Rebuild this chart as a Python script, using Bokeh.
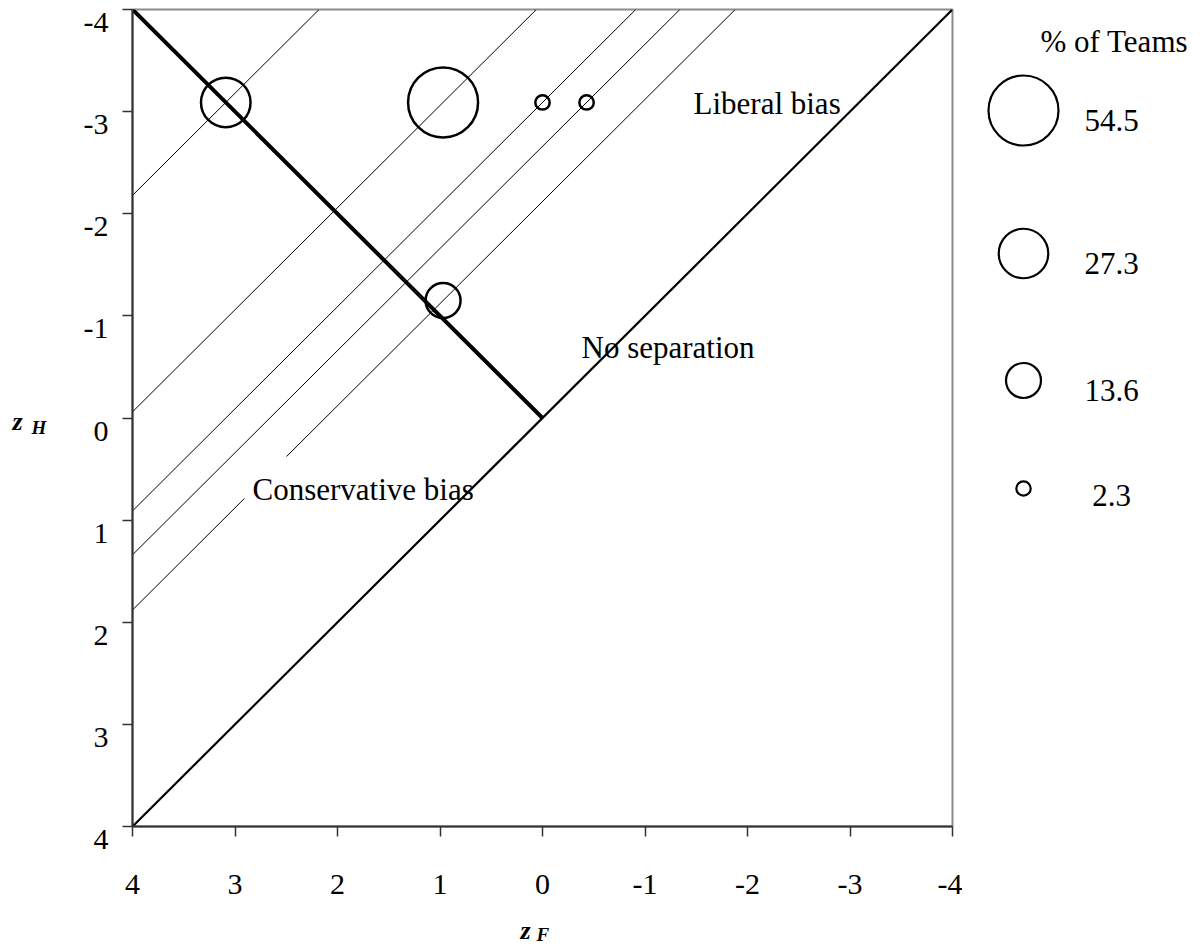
import numpy as np
from bokeh.plotting import figure
from bokeh.models import Range1d, FixedTicker, LinearAxis
from bokeh.layouts import row, column
from bokeh.core.properties import value
from bokeh.embed import file_html
from bokeh.resources import INLINE

# ---------------- data ----------------
zF = [3.09, 0.97, 0.0, -0.43, 0.97]          # team points, z(F)
zH = [-3.09, -3.09, -3.09, -3.09, -1.15]     # team points, z(H)
pct_teams = [27.3, 54.5, 2.3, 2.3, 13.6]     # % of teams at each point
legend_pct = [54.5, 27.3, 13.6, 2.3]
ticks = [4, 3, 2, 1, 0, -1, -2, -3, -4]
tick_labels = ["4", "3", "2", "1", "0", "-1", "-2", "-3", "-4"]
no_sep_x = [4, -4]          # chance line zH = zF
no_sep_y = [4, -4]
neutral_x = [4, 0]          # unbiased criterion line zH = -zF
neutral_y = [-4, 0]
annot_text = ["Liberal bias", "No separation", "Conservative bias"]
legend_title = "% of Teams"

FONT = "Liberation Serif"
MAX_D = 70.0


def diam(p):
    return list(MAX_D * np.sqrt(np.array(p, dtype=float) / max(legend_pct)))


# ---------------- layout geometry (page pixels) ----------------
TOTAL_W, TOTAL_H = 1196, 945
TOP_H = 915                     # height of the upper row
LSW = 60                        # left strip (z_H symbol)
FL, FT, FW, FH = 132, 9, 820, 817
MAIN_W = FL - LSW + FW + 10
LEG_X0 = LSW + MAIN_W


def to_data(px, py):
    return 4 - (px - FL) / FW * 8, -4 + (py - FT) / FH * 8


def helper(x0, w, h, ytop, ybot):
    f = figure(width=w, height=h, min_border=0, title=None,
               x_range=Range1d(x0, x0 + w), y_range=Range1d(ybot, ytop),
               x_axis_location=None, y_axis_location=None,
               output_backend="svg", toolbar_location=None)
    f.grid.visible = False
    f.outline_line_color = None
    f.border_fill_color = "white"
    f.background_fill_color = "white"
    return f


# ---------------- main plot ----------------
p = figure(frame_width=FW, frame_height=FH, min_border_left=FL - LSW, min_border_right=10,
           min_border_top=FT, min_border_bottom=TOP_H - FT - FH, title=None,
           x_range=Range1d(4, -4), y_range=Range1d(4, -4),
           output_backend="svg", toolbar_location=None)
p.grid.visible = False
p.outline_line_color = "#8c8c8c"
p.outline_line_width = 2
p.background_fill_color = "white"
p.border_fill_color = "white"

# y tick labels sit ~12px below their ticks in the original: a label-only axis
shift = 12 / FH * 8
p.extra_y_ranges = {"lab": Range1d(4 - shift, -4 - shift)}
lab_ticks = [t for t in ticks if t != ticks[0]] + [ticks[0] - shift]
lab_over = {t: s for t, s in zip(ticks, tick_labels) if t != ticks[0]}
lab_over[ticks[0] - shift] = "\n" + tick_labels[0]
ylab = LinearAxis(y_range_name="lab", ticker=FixedTicker(ticks=lab_ticks))
p.add_layout(ylab, "left")

for ax in (p.xaxis[0], p.yaxis[0], ylab):
    ax.major_tick_in = 0
    ax.minor_tick_line_color = None
    ax.major_label_text_font = FONT
    ax.major_label_text_font_size = "30px"
    ax.major_label_text_color = "black"

for ax in (p.xaxis[0], p.yaxis[0]):
    ax.ticker = FixedTicker(ticks=ticks)
    ax.major_tick_out = 10
    ax.axis_line_color = "#333333"
    ax.axis_line_width = 2
    ax.major_tick_line_color = "#333333"
    ax.major_tick_line_width = 1.5

p.xaxis.major_label_overrides = {t: s for t, s in zip(ticks, tick_labels)}
p.xaxis.major_label_standoff = 38
p.yaxis[0].major_label_overrides = {t: "" for t in ticks}
p.yaxis[0].major_label_standoff = 0
ylab.major_label_overrides = lab_over
ylab.major_label_text_line_height = 0.7
ylab.axis_line_color = None
ylab.major_tick_line_color = None
ylab.major_tick_out = 0
ylab.major_label_standoff = 14

# iso-sensitivity lines through each point
d = np.array(zF) - np.array(zH)
xs = [[4.0, float(di) - 4.0] for di in d]
ys = [[4.0 - float(di), -4.0] for di in d]
p.multi_line(xs, ys, line_color="black", line_width=1)

# white text box behind "Conservative bias"
bx0, by0 = to_data(244, 456)
bx1, by1 = to_data(484, 512)
p.quad(left=[bx0], right=[bx1], top=[by0], bottom=[by1], fill_color="white", line_color=None)

# annotation texts (positioned by their vertical middle)
lx, ly = zip(to_data(693, 102.5), to_data(581, 346.5), to_data(252, 489))
p.text(x=list(lx), y=list(ly), text=annot_text, text_font=value(FONT),
       text_font_size="31px", text_color="black", text_baseline="middle",
       text_align="left")

# chance line and neutral criterion line
p.line(no_sep_x, no_sep_y, line_color="black", line_width=2.2)
p.line(neutral_x, neutral_y, line_color="black", line_width=4)

# team points
p.scatter(zF, zH, size=diam(pct_teams), marker="circle", fill_color=None,
          line_color="black", line_width=2.5)

# ---------------- left strip: z_H (frame aligned with main frame) ----------------
left = helper(0, LSW, TOP_H, FT, FT + FH)
left.text(x=[12], y=[421], text=["z"], text_font=value(FONT), text_font_style="bold italic",
          text_font_size="26px", text_color="black", text_baseline="middle")
left.text(x=[31], y=[426.5], text=["H"], text_font=value(FONT), text_font_style="bold italic",
          text_font_size="19px", text_color="black", text_baseline="middle")

# ---------------- legend panel (frame aligned with main frame) ----------------
q = helper(LEG_X0, TOTAL_W - LEG_X0, TOP_H, FT, FT + FH)
leg_x = 1023
leg_cy = [110, 253, 380, 488]
leg_ty = [120, 263, 390, 495]
q.scatter([leg_x] * len(legend_pct), leg_cy, size=diam(legend_pct), marker="circle",
          fill_color=None, line_color="black", line_width=2.2)
q.text(x=[1111] * len(legend_pct), y=leg_ty, text=[f"{v}" for v in legend_pct],
       text_font=value(FONT), text_font_size="31px", text_color="black",
       text_align="center", text_baseline="middle")
q.text(x=[1040], y=[41], text=[legend_title], text_font=value(FONT), text_font_size="31px",
       text_color="black", text_align="left", text_baseline="middle")

# ---------------- bottom strip: z_F ----------------
bot = helper(0, TOTAL_W, TOTAL_H - TOP_H, TOP_H, TOTAL_H)
bot.text(x=[520], y=[930], text=["z"], text_font=value(FONT), text_font_style="bold italic",
         text_font_size="26px", text_color="black", text_baseline="middle")
bot.text(x=[536], y=[934], text=["F"], text_font=value(FONT), text_font_style="bold italic",
         text_font_size="19px", text_color="black", text_baseline="middle")

layout = column(row(left, p, q), bot)
open("out.html", "w").write(file_html(layout, INLINE))
